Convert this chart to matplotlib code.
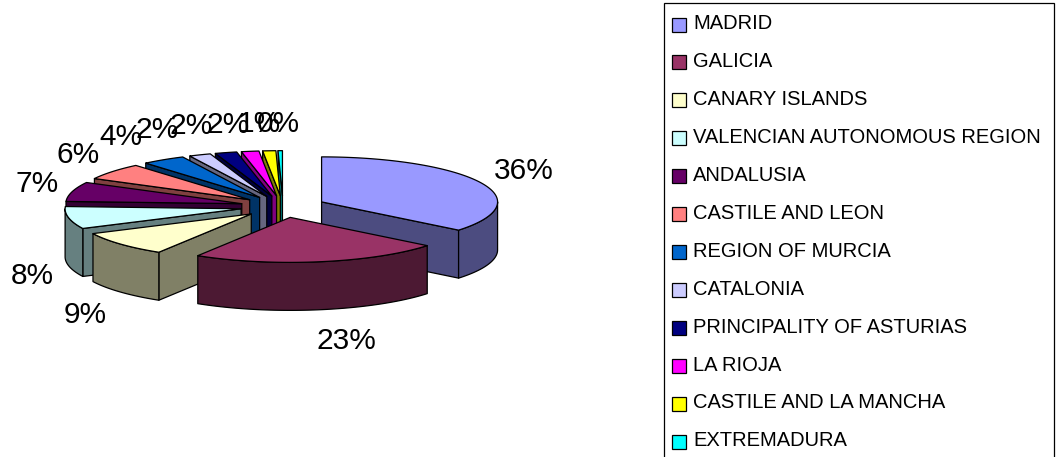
import numpy as np
import matplotlib.pyplot as plt
from matplotlib.patches import Polygon, Rectangle

# Regional shares (percent)
regions = [
    "MADRID", "GALICIA", "CANARY ISLANDS", "VALENCIAN AUTONOMOUS REGION",
    "ANDALUSIA", "CASTILE AND LEON", "REGION OF MURCIA", "CATALONIA",
    "PRINCIPALITY OF ASTURIAS", "LA RIOJA", "CASTILE AND LA MANCHA", "EXTREMADURA",
]
shares = [35.8, 23.0, 9.0, 8.0, 7.0, 6.0, 4.0, 2.0, 2.0, 1.6, 1.2, 0.4]
top_colors = [
    "#9999FF", "#993366", "#FFFFCC", "#CCFFFF", "#660066", "#FF8080",
    "#0066CC", "#CCCCFF", "#000080", "#FF00FF", "#FFFF00", "#00FFFF",
]
side_colors = [
    "#4C4C80", "#4C1933", "#808066", "#668080", "#330033", "#804040",
    "#003366", "#666680", "#000040", "#800080", "#808000", "#008080",
]

FONT = "Liberation Sans"

fig = plt.figure(figsize=(10.57, 4.57), dpi=100)
ax = fig.add_axes([0, 0, 1, 1])
ax.set_xlim(0, 1057)
ax.set_ylim(457, 0)
ax.axis("off")

# 3D pie geometry (screen units)
CX, CY = 283.0, 206.6
RX, RY = 176.0, 45.0
DEPTH = 48.0
EXPLODE = 0.243
LABEL_RX, LABEL_RX_EXTRA = 235.0, 120.0
LABEL_RY = 83.0
FRONT_DROP = 53.0

total = float(sum(shares))
fracs = np.array(shares) / total
bounds = 90.0 - 360.0 * np.concatenate([[0.0], np.cumsum(fracs)])

EDGE = dict(edgecolor="black", linewidth=0.9, joinstyle="round")


def rim(ox, oy, angles, dz=0.0):
    a = np.radians(angles)
    return np.column_stack([ox + RX * np.cos(a), oy - RY * np.sin(a) + dz])


slices = []
for i in range(len(shares)):
    t1, t2 = bounds[i], bounds[i + 1]
    mid = 0.5 * (t1 + t2)
    m = np.radians(mid)
    ox = CX + EXPLODE * RX * np.cos(m)
    oy = CY - EXPLODE * RY * np.sin(m)
    slices.append((i, t1, t2, mid, ox, oy))

# paint from the far side of the pie to the near side
for i, t1, t2, mid, ox, oy in sorted(slices, key=lambda s: -np.sin(np.radians(s[3]))):
    apex = np.array([[ox, oy]])
    apex_low = apex + [0, DEPTH]
    # radial cut faces
    if np.cos(np.radians(t1)) < 0:
        p = rim(ox, oy, [t1])
        ax.add_patch(Polygon(np.vstack([apex, p, p + [0, DEPTH], apex_low]),
                             facecolor=side_colors[i], **EDGE))
    if np.cos(np.radians(t2)) > 0:
        p = rim(ox, oy, [t2])
        ax.add_patch(Polygon(np.vstack([apex, p, p + [0, DEPTH], apex_low]),
                             facecolor=side_colors[i], **EDGE))
    # outer wall on the near half
    hi, lo = min(t1, 0.0), max(t2, -180.0)
    if hi > lo:
        angs = np.linspace(hi, lo, 60)
        up = rim(ox, oy, angs)
        down = rim(ox, oy, angs[::-1], DEPTH)
        ax.add_patch(Polygon(np.vstack([up, down]), facecolor=side_colors[i], **EDGE))
    # top face
    angs = np.linspace(t1, t2, max(4, int(abs(t1 - t2) * 2)))
    ax.add_patch(Polygon(np.vstack([apex, rim(ox, oy, angs)]),
                         facecolor=top_colors[i], **EDGE))

# percentage labels
for i, t1, t2, mid, ox, oy in slices:
    label = f"{round(shares[i] / total * 100)}%"
    m = np.radians(mid)
    c, s = np.cos(m), np.sin(m)
    half_w = 10.3 * len(label)
    rx_lab = LABEL_RX + LABEL_RX_EXTRA * s ** 6
    x = CX + rx_lab * c + half_w * c
    y = CY - LABEL_RY * s + (FRONT_DROP if s < 0 else 0.0)
    ax.text(x, y, label, ha="center", va="center", fontsize=21.5,
            family=FONT, color="black")

# legend
ax.add_patch(Rectangle((664, 3), 390, 460, facecolor="white",
                       edgecolor="black", linewidth=0.9))
ROW0, ROW_STEP = 24.5, 37.95
for i, name in enumerate(regions):
    yc = ROW0 + i * ROW_STEP
    ax.add_patch(Rectangle((672, yc - 7), 14, 14, facecolor=top_colors[i],
                           edgecolor="black", linewidth=0.9))
    ax.text(693, yc + 4.5, name, ha="left", va="baseline", fontsize=14.5,
            family=FONT, color="black")

fig.savefig("out.png", dpi=100, facecolor="white")
